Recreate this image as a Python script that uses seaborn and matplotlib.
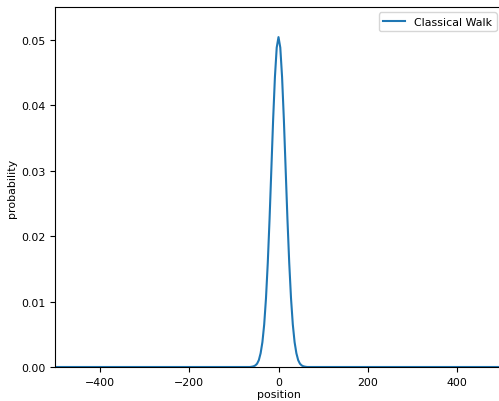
import numpy as np
import pandas as pd
import matplotlib
matplotlib.use("Agg")
import matplotlib.pyplot as plt
import seaborn as sns

# values (peak near 0, zero outside about +-60)
positions = [-500, -64, -60, -56, -52, -48, -44, -40, -36, -32, -28, -24, -20, -16, -12, -8, -4,
             0, 4, 8, 12, 16, 20, 24, 28, 32, 36, 40, 44, 48, 52, 56, 60, 64, 500]
probs_right = [0.0504, 0.0488, 0.0443, 0.0378, 0.0302, 0.0226, 0.0159, 0.0105, 0.0065,
               0.0038, 0.0021, 0.00105, 0.0005, 0.00023, 0.0001, 0.00004, 0.0, 0.0]
probability = probs_right[:0:-1] + probs_right

df = pd.DataFrame({"position": positions, "probability": probability})

plt.rcParams['font.family'] = ['DejaVu Sans']
plt.rcParams['font.size'] = 7.9

fig = plt.figure(figsize=(4.99, 4.02), dpi=100)
ax = fig.add_axes([55 / 499, 34 / 402, 447 / 499, 360 / 402])

sns.lineplot(data=df, x="position", y="probability", ax=ax,
             color="#1f77b4", linewidth=1.5, label="Classical Walk")

ax.set_xlim(-500, 500)
ax.set_ylim(0, 0.055)
ax.set_xticks([-400, -200, 0, 200, 400])
ax.set_yticks([0.0, 0.01, 0.02, 0.03, 0.04, 0.05])
ax.set_yticklabels(["0.00", "0.01", "0.02", "0.03", "0.04", "0.05"])
ax.set_xlabel("position", labelpad=1.5)
ax.set_ylabel("probability", labelpad=2.5)
ax.legend(loc="upper right")

fig.savefig("out.png", dpi=100)
